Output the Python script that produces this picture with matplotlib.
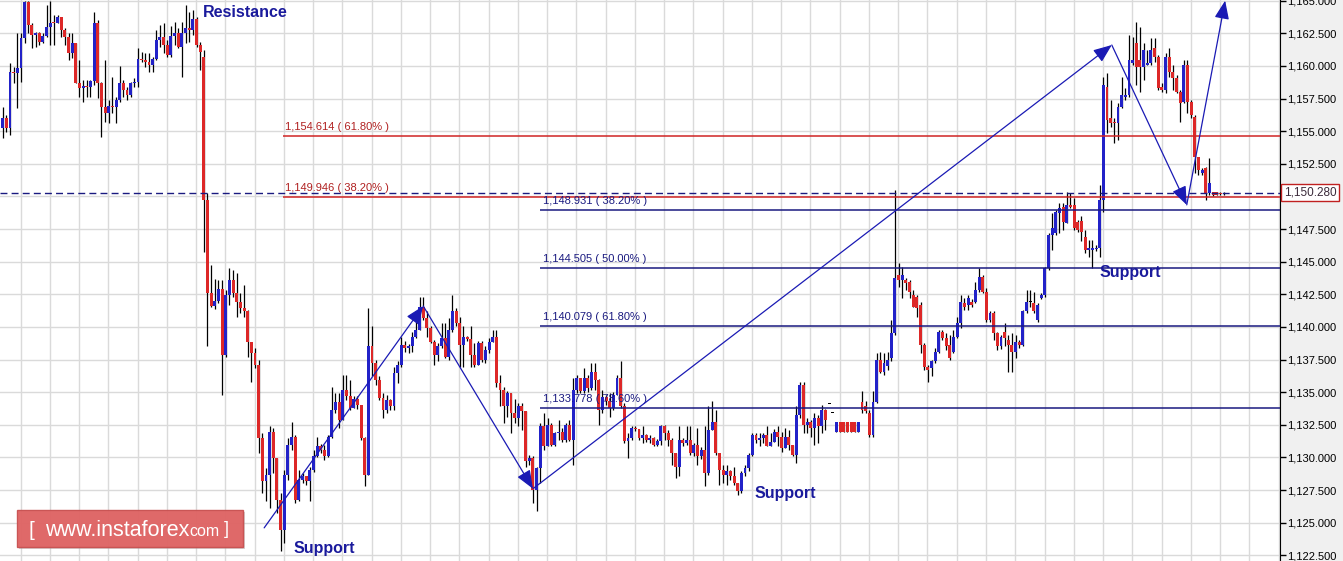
import numpy as np
import matplotlib.pyplot as plt
from matplotlib.patches import Rectangle

opens = [
    1155.22, 1155.98, 1155.22, 1159.56, 1159.43, 1159.81, 1162.11, 1164.92, 1163.13, 1162.37,
    1162.5, 1161.86, 1162.29, 1163.0, 1163.31, 1163.26, 1163.77, 1162.75, 1162.19, 1160.96,
    1161.73, 1158.72, 1158.28, 1158.46, 1158.36, 1158.84, 1163.31, 1158.67, 1156.88, 1156.42,
    1156.93, 1156.83, 1157.39, 1158.67, 1158.15, 1157.77, 1158.72, 1158.79, 1160.5, 1160.45,
    1160.33, 1160.07, 1160.5, 1161.99, 1162.24, 1161.6, 1160.84, 1162.29, 1162.5, 1161.42,
    1162.5, 1162.88, 1162.75, 1163.57, 1161.6, 1160.71, 1149.73, 1142.58, 1141.61, 1142.0,
    1142.9, 1137.85, 1142.45, 1143.6, 1142.58, 1141.94, 1141.43, 1141.18, 1138.88, 1137.98,
    1137.09, 1131.47, 1128.16, 1128.67, 1131.98, 1129.94, 1126.75, 1124.45, 1128.67, 1130.96,
    1131.6, 1126.75, 1128.28, 1128.54, 1128.16, 1129.05, 1130.07, 1130.84, 1130.6, 1130.07,
    1131.6, 1133.65, 1134.28, 1132.88, 1135.18, 1134.67, 1133.77, 1134.5, 1134.0, 1131.47,
    1128.67, 1138.5, 1137.22, 1135.94, 1134.54, 1133.65, 1134.41, 1133.9, 1136.45, 1137.09,
    1138.62, 1138.37, 1138.5, 1139.26, 1139.77, 1141.56, 1140.67, 1139.9, 1138.88, 1137.86,
    1138.5, 1139.13, 1137.73, 1139.77, 1141.18, 1140.28, 1138.62, 1139.26, 1139.1, 1137.86,
    1137.09, 1138.75, 1137.47, 1138.24, 1138.88, 1139.26, 1135.69, 1135.18, 1133.9, 1134.92,
    1133.39, 1133.0, 1133.9, 1133.52, 1129.69, 1129.94, 1127.52, 1129.18, 1132.37, 1130.84,
    1132.49, 1130.96, 1131.86, 1131.98, 1131.35, 1132.49, 1131.35, 1135.18, 1136.07, 1135.05,
    1136.07, 1135.3, 1136.58, 1135.94, 1133.64, 1134.66, 1134.3, 1133.77, 1134.79, 1136.07,
    1133.9, 1131.22, 1131.47, 1132.24, 1132.2, 1131.47, 1131.73, 1131.35, 1131.5, 1130.96,
    1131.22, 1132.37, 1131.86, 1131.35, 1130.32, 1129.3, 1131.35, 1131.09, 1131.35, 1130.32,
    1130.96, 1130.07, 1130.6, 1128.79, 1132.11, 1132.75, 1130.32, 1129.05, 1128.66, 1128.92,
    1128.54, 1128.03, 1127.39, 1128.79, 1129.18, 1130.2, 1131.73, 1131.35, 1131.47, 1131.73,
    1130.84, 1131.2, 1131.98, 1131.6, 1130.71, 1131.6, 1130.96, 1130.2, 1133.26, 1135.56,
    1132.5, 1132.7, 1132.24, 1133.01, 1132.37, 1133.65, 1134.1, 1133.39, 1131.98, 1132.75,
    1132.75, 1132.75, 1132.75, 1132.75, 1131.98, 1134.28, 1133.9, 1133.39, 1131.73, 1134.28,
    1137.47, 1136.58, 1137.0, 1137.6, 1139.52, 1143.98, 1143.6, 1143.6, 1143.47, 1142.45,
    1142.32, 1141.69, 1138.62, 1136.96, 1136.84, 1137.35, 1138.11, 1139.64, 1139.13, 1138.62,
    1138.11, 1139.26, 1140.28, 1141.81, 1141.69, 1141.94, 1141.94, 1142.83, 1143.86, 1142.71,
    1140.54, 1141.05, 1139.52, 1138.5, 1139.64, 1139.0, 1138.62, 1138.11, 1138.88, 1138.62,
    1141.18, 1141.94, 1141.81, 1140.54, 1142.2, 1142.45, 1144.49, 1147.05, 1147.18, 1148.71,
    1149.22, 1147.94, 1149.35, 1149.35, 1148.07, 1148.1, 1146.92, 1145.9, 1145.9, 1145.95,
    1146.03, 1149.73, 1158.41, 1155.99, 1155.73, 1155.6, 1156.88, 1157.65, 1157.77, 1160.2,
    1161.73, 1160.45, 1159.94, 1160.07, 1160.2, 1161.35, 1160.71, 1158.41, 1158.16, 1160.71,
    1159.56, 1159.05, 1158.03, 1157.26, 1160.07, 1157.26, 1156.11, 1153.05, 1151.77, 1152.16,
    1150.24, 1150.3, 1150.3, 1150.29, 1150.15,
]

closes = [
    1155.98, 1155.22, 1159.56, 1159.43, 1159.81, 1162.11, 1164.92, 1163.13, 1162.37, 1162.5,
    1161.86, 1162.29, 1163.0, 1163.31, 1163.26, 1163.77, 1162.75, 1162.19, 1160.96, 1161.73,
    1158.72, 1158.28, 1158.46, 1158.36, 1158.84, 1163.31, 1158.67, 1156.88, 1156.42, 1156.93,
    1156.83, 1157.39, 1158.67, 1158.15, 1157.77, 1158.72, 1158.79, 1160.5, 1160.45, 1160.33,
    1160.07, 1160.5, 1161.99, 1162.24, 1161.6, 1160.84, 1162.29, 1162.5, 1161.42, 1162.5,
    1162.88, 1162.75, 1163.57, 1161.6, 1161.09, 1149.73, 1142.58, 1141.61, 1142.0, 1142.9,
    1137.85, 1142.45, 1143.6, 1142.58, 1141.94, 1141.43, 1141.18, 1138.88, 1137.98, 1137.09,
    1131.47, 1128.16, 1128.67, 1131.98, 1129.94, 1126.75, 1124.45, 1128.67, 1130.96, 1131.6,
    1126.75, 1128.28, 1128.54, 1128.16, 1129.05, 1130.07, 1130.84, 1130.6, 1130.07, 1131.6,
    1133.65, 1134.28, 1132.88, 1135.18, 1134.67, 1133.77, 1134.5, 1134.0, 1131.47, 1128.67,
    1138.5, 1137.22, 1135.94, 1134.54, 1133.65, 1134.41, 1133.9, 1136.45, 1137.09, 1138.62,
    1138.37, 1138.5, 1139.26, 1139.77, 1141.56, 1140.67, 1139.9, 1138.88, 1137.86, 1138.5,
    1139.13, 1137.73, 1139.77, 1141.18, 1140.28, 1138.62, 1139.26, 1139.1, 1137.86, 1137.09,
    1138.75, 1137.47, 1138.24, 1138.88, 1139.26, 1135.69, 1135.18, 1133.9, 1134.92, 1133.39,
    1133.0, 1133.9, 1133.52, 1129.69, 1129.94, 1127.52, 1129.18, 1132.37, 1130.84, 1132.49,
    1130.96, 1131.86, 1131.98, 1131.35, 1132.49, 1131.35, 1135.18, 1136.07, 1135.05, 1136.07,
    1135.3, 1136.58, 1135.94, 1133.64, 1134.66, 1134.3, 1133.77, 1134.79, 1136.07, 1133.9,
    1131.22, 1131.47, 1132.24, 1132.2, 1131.47, 1131.73, 1131.35, 1131.5, 1130.96, 1131.22,
    1132.37, 1131.86, 1131.35, 1130.32, 1129.3, 1131.35, 1131.09, 1131.35, 1130.32, 1130.96,
    1130.07, 1130.6, 1128.79, 1132.11, 1132.75, 1130.32, 1129.05, 1128.66, 1128.92, 1128.54,
    1128.03, 1127.39, 1128.79, 1129.18, 1130.2, 1131.73, 1131.35, 1131.47, 1131.73, 1130.84,
    1131.2, 1131.98, 1131.6, 1130.71, 1131.6, 1130.96, 1130.2, 1133.26, 1135.56, 1132.5,
    1132.7, 1132.24, 1133.01, 1132.37, 1133.65, 1132.88, 1134.1, 1133.39, 1132.75, 1131.98,
    1131.98, 1131.98, 1131.98, 1131.98, 1132.75, 1133.65, 1133.52, 1131.73, 1134.28, 1137.47,
    1136.58, 1137.22, 1137.47, 1139.52, 1143.73, 1143.6, 1143.98, 1143.35, 1142.71, 1141.56,
    1141.43, 1138.62, 1136.96, 1136.71, 1137.35, 1138.11, 1139.64, 1139.13, 1138.5, 1137.6,
    1139.26, 1140.28, 1141.94, 1141.56, 1142.2, 1141.69, 1142.83, 1143.86, 1142.71, 1140.54,
    1141.05, 1139.52, 1138.5, 1139.26, 1139.13, 1138.62, 1138.11, 1138.88, 1138.62, 1141.18,
    1141.94, 1141.94, 1141.18, 1141.69, 1142.45, 1144.49, 1147.05, 1147.56, 1148.83, 1149.09,
    1148.07, 1149.35, 1149.22, 1147.56, 1147.43, 1147.3, 1145.9, 1146.03, 1146.03, 1146.03,
    1149.73, 1158.54, 1155.86, 1155.6, 1155.6, 1156.88, 1157.77, 1157.77, 1160.45, 1160.45,
    1159.94, 1159.94, 1161.22, 1160.2, 1161.22, 1160.71, 1158.28, 1158.16, 1160.71, 1159.56,
    1159.05, 1158.03, 1157.14, 1160.07, 1157.26, 1156.24, 1153.05, 1152.03, 1152.03, 1150.24,
    1151.01, 1150.12, 1150.12, 1150.15, 1150.28,
]

highs = [
    1156.88, 1156.24, 1160.2, 1159.94, 1162.5, 1162.5, 1165.0, 1165.0, 1163.26, 1162.62,
    1162.62, 1162.5, 1164.67, 1165.0, 1163.9, 1163.9, 1163.77, 1162.88, 1162.5, 1162.5,
    1161.73, 1160.45, 1158.92, 1158.92, 1158.92, 1164.16, 1163.52, 1158.79, 1160.45, 1157.39,
    1159.18, 1157.64, 1160.0, 1158.92, 1158.41, 1158.79, 1159.05, 1161.35, 1161.09, 1161.02,
    1160.96, 1160.71, 1162.75, 1163.13, 1163.26, 1161.99, 1163.06, 1163.39, 1162.88, 1163.39,
    1164.67, 1164.16, 1164.28, 1163.77, 1161.86, 1161.2, 1150.24, 1144.75, 1143.7, 1143.6,
    1143.6, 1142.83, 1144.49, 1144.37, 1144.11, 1142.58, 1143.22, 1141.3, 1138.75, 1138.37,
    1137.47, 1131.86, 1129.2, 1132.37, 1132.24, 1129.56, 1127.26, 1129.05, 1131.47, 1132.75,
    1131.73, 1129.05, 1128.8, 1128.6, 1129.3, 1130.58, 1131.6, 1131.0, 1130.96, 1131.73,
    1135.43, 1134.9, 1134.92, 1136.33, 1136.33, 1135.94, 1134.7, 1134.7, 1133.9, 1131.6,
    1141.43, 1140.03, 1137.47, 1136.2, 1134.92, 1134.79, 1134.5, 1136.96, 1137.35, 1139.26,
    1138.9, 1138.7, 1139.64, 1140.79, 1142.32, 1142.32, 1141.18, 1140.03, 1139.0, 1138.75,
    1140.28, 1140.28, 1140.67, 1142.45, 1141.43, 1140.79, 1140.03, 1139.3, 1140.03, 1138.75,
    1138.9, 1138.9, 1138.5, 1139.13, 1139.77, 1139.77, 1136.32, 1135.43, 1135.05, 1134.92,
    1134.5, 1134.15, 1134.15, 1133.26, 1130.2, 1130.07, 1129.3, 1132.62, 1133.39, 1133.0,
    1132.62, 1131.98, 1132.88, 1132.24, 1132.62, 1132.88, 1136.07, 1136.32, 1136.1, 1136.83,
    1136.3, 1137.22, 1137.22, 1136.0, 1135.18, 1134.8, 1134.92, 1135.0, 1136.32, 1137.35,
    1134.15, 1131.86, 1132.37, 1132.4, 1132.11, 1132.37, 1131.8, 1131.7, 1131.6, 1131.4,
    1132.49, 1132.49, 1132.11, 1131.47, 1130.32, 1132.37, 1131.47, 1132.37, 1132.37, 1131.09,
    1132.24, 1130.8, 1132.37, 1133.9, 1134.3, 1133.64, 1130.32, 1129.43, 1129.43, 1129.05,
    1129.3, 1128.0, 1128.92, 1129.4, 1130.32, 1131.86, 1131.9, 1131.86, 1131.86, 1132.37,
    1131.86, 1132.2, 1132.37, 1131.98, 1132.24, 1132.11, 1130.96, 1133.9, 1135.81, 1135.81,
    1133.0, 1132.88, 1133.39, 1133.26, 1134.0, 1133.7, 1134.1, 1133.39, 1132.75, 1132.75,
    1132.75, 1132.75, 1132.75, 1132.75, 1132.75, 1135.05, 1134.3, 1133.65, 1135.05, 1137.98,
    1138.11, 1137.98, 1138.11, 1140.54, 1150.49, 1144.88, 1144.62, 1143.73, 1143.6, 1142.83,
    1142.45, 1141.94, 1138.75, 1137.09, 1137.47, 1138.37, 1139.77, 1139.77, 1139.52, 1139.39,
    1139.77, 1140.79, 1142.45, 1142.2, 1142.45, 1142.1, 1143.47, 1144.49, 1143.98, 1142.96,
    1141.18, 1141.18, 1139.64, 1139.4, 1140.28, 1139.39, 1139.52, 1139.39, 1139.0, 1141.3,
    1142.83, 1142.83, 1142.71, 1141.81, 1142.58, 1144.62, 1147.18, 1148.71, 1148.96, 1149.47,
    1149.47, 1150.37, 1150.24, 1149.86, 1148.2, 1148.5, 1147.43, 1146.67, 1146.67, 1146.3,
    1150.88, 1159.18, 1159.43, 1157.39, 1155.99, 1157.14, 1159.18, 1158.28, 1162.37, 1162.24,
    1163.39, 1163.0, 1161.73, 1161.22, 1162.11, 1162.11, 1160.84, 1158.67, 1160.96, 1161.35,
    1160.07, 1159.31, 1158.16, 1160.45, 1160.45, 1157.39, 1156.24, 1153.05, 1152.16, 1152.29,
    1152.92, 1150.35, 1150.35, 1150.35, 1150.32,
]

lows = [
    1154.45, 1154.96, 1154.71, 1158.67, 1156.75, 1158.79, 1161.73, 1162.5, 1161.35, 1161.47,
    1161.6, 1161.73, 1162.24, 1161.6, 1161.6, 1163.26, 1162.24, 1161.6, 1160.45, 1160.58,
    1158.67, 1157.64, 1157.26, 1157.64, 1157.64, 1158.54, 1157.52, 1154.58, 1155.73, 1155.6,
    1156.37, 1155.6, 1157.26, 1157.64, 1157.39, 1157.64, 1158.41, 1158.41, 1160.33, 1159.94,
    1159.56, 1159.56, 1160.45, 1161.47, 1160.96, 1160.71, 1160.71, 1161.6, 1161.35, 1159.13,
    1161.73, 1161.86, 1162.37, 1161.47, 1159.69, 1145.75, 1138.5, 1141.5, 1141.4, 1141.8,
    1134.8, 1137.73, 1141.7, 1142.3, 1140.79, 1141.05, 1140.79, 1137.73, 1135.81, 1136.84,
    1130.33, 1127.26, 1126.62, 1126.1, 1128.79, 1125.73, 1122.79, 1123.43, 1128.28, 1130.58,
    1126.5, 1126.62, 1128.0, 1127.9, 1126.62, 1128.9, 1130.0, 1130.3, 1129.82, 1130.0,
    1131.47, 1133.39, 1132.24, 1132.88, 1134.41, 1133.65, 1133.9, 1133.7, 1131.35, 1127.77,
    1128.79, 1136.2, 1135.56, 1134.41, 1133.01, 1133.39, 1133.6, 1133.65, 1135.7, 1136.96,
    1138.1, 1138.0, 1138.11, 1139.13, 1139.77, 1140.54, 1139.26, 1138.75, 1137.09, 1137.35,
    1138.37, 1137.6, 1137.47, 1139.64, 1140.03, 1136.96, 1136.96, 1138.9, 1136.96, 1136.96,
    1137.73, 1137.3, 1137.2, 1138.0, 1138.88, 1135.43, 1133.9, 1132.62, 1133.13, 1131.86,
    1132.62, 1132.37, 1132.11, 1129.3, 1129.4, 1126.5, 1125.86, 1128.03, 1130.58, 1130.84,
    1130.84, 1130.84, 1131.35, 1131.2, 1131.2, 1131.22, 1129.43, 1134.92, 1134.9, 1134.92,
    1135.0, 1135.18, 1135.18, 1132.49, 1133.39, 1134.0, 1133.13, 1133.6, 1134.79, 1133.8,
    1131.09, 1129.94, 1131.35, 1132.0, 1131.35, 1131.09, 1131.2, 1131.1, 1130.84, 1130.9,
    1130.96, 1131.35, 1130.84, 1129.43, 1128.41, 1128.54, 1130.84, 1130.96, 1130.2, 1130.07,
    1129.43, 1129.9, 1127.77, 1128.66, 1132.11, 1130.2, 1127.9, 1128.03, 1127.9, 1128.3,
    1127.9, 1127.13, 1127.26, 1128.6, 1128.92, 1130.07, 1131.1, 1130.84, 1131.09, 1130.84,
    1130.84, 1131.2, 1130.84, 1130.45, 1130.71, 1130.58, 1130.07, 1129.56, 1133.0, 1131.86,
    1131.9, 1131.6, 1130.96, 1131.09, 1131.86, 1132.1, 1134.1, 1133.39, 1131.98, 1131.98,
    1131.98, 1131.98, 1131.98, 1131.98, 1131.98, 1133.39, 1133.39, 1131.6, 1131.6, 1134.16,
    1136.45, 1136.33, 1136.71, 1137.35, 1139.39, 1143.09, 1142.2, 1142.83, 1142.2, 1141.56,
    1140.79, 1137.98, 1136.71, 1135.81, 1136.2, 1137.22, 1137.98, 1139.0, 1138.24, 1137.47,
    1137.98, 1139.13, 1139.9, 1141.3, 1141.3, 1141.5, 1141.81, 1142.71, 1142.58, 1140.41,
    1140.41, 1139.0, 1138.24, 1138.3, 1138.5, 1136.58, 1136.58, 1137.6, 1138.37, 1138.5,
    1141.05, 1141.56, 1141.05, 1140.41, 1142.1, 1142.32, 1144.37, 1145.9, 1147.05, 1147.18,
    1147.43, 1147.94, 1149.1, 1147.43, 1147.3, 1146.6, 1145.65, 1145.39, 1144.5, 1145.8,
    1145.39, 1148.84, 1154.84, 1155.35, 1154.07, 1154.33, 1156.75, 1157.39, 1157.65, 1160.07,
    1158.54, 1158.03, 1158.92, 1160.07, 1160.07, 1160.33, 1158.16, 1158.03, 1157.9, 1159.18,
    1158.16, 1157.9, 1155.73, 1157.14, 1156.37, 1155.99, 1151.77, 1151.65, 1151.65, 1149.73,
    1150.12, 1150.05, 1150.1, 1150.1, 1150.12,
]

# fibonacci levels
red_levels = [1154.614, 1149.946]
red_pcts = ['61.80%', '38.20%']
blue_levels = [1148.931, 1144.505, 1140.079, 1133.778]
blue_pcts = ['38.20%', '50.00%', '61.80%', '78.60%']
last_price = 1150.280

# wave arrows: (bar index, price) turning points
wave_x = [71.5, 115.0, 145.0, 303.3, 323.8, 334.3]
wave_y = [1124.6, 1141.6, 1127.6, 1161.6, 1149.35, 1165.0]

labels_text = ['Resistance', 'Support', 'Support', 'Support']
labels_x = [54.8, 79.4, 205.7, 300.0]
labels_y = [1164.1, 1123.0, 1127.2, 1144.2]

W, H = 1343, 561
fig = plt.figure(figsize=(W / 100, H / 100), dpi=100, facecolor='#f0f0f0')
ax = fig.add_axes([0, 0, 1280 / W, 1])
ax.set_facecolor('white')

o = np.array(opens)
c = np.array(closes)
n = len(o)
hi = np.maximum(np.array(highs), np.maximum(o, c))
lo = np.minimum(np.array(lows), np.minimum(o, c))
x = np.arange(n)

ax.set_xlim(-0.74, 349.3)
ax.set_ylim(1122.06, 1165.05)

ax.vlines(x, lo, hi, color='black', lw=0.9, zorder=2)
colors = np.where(c > o, '#2222c8', np.where(c < o, '#dd2828', '#000000'))
bottoms = np.minimum(o, c)
heights = np.maximum(np.abs(c - o), 0.08)
ax.bar(x, heights, bottom=bottoms, width=0.8, color=colors, lw=0, zorder=3)

fnt = ['Liberation Sans', 'DejaVu Sans']
navy = '#1a1a80'
for lv, pc in zip(red_levels, red_pcts):
    ax.hlines(lv, 76.6, 349.3, color='#d02424', lw=1.1, zorder=4)
    ax.text(77.3, lv + 0.3, f'{lv:,.3f} ( {pc} )', color='#b02020', fontsize=8,
            family=fnt, va='bottom', ha='left', zorder=5)
for lv, pc in zip(blue_levels, blue_pcts):
    ax.hlines(lv, 147.0, 349.3, color=navy, lw=1.1, zorder=4)
    ax.text(147.7, lv + 0.3, f'{lv:,.3f} ( {pc} )', color=navy, fontsize=8,
            family=fnt, va='bottom', ha='left', zorder=5)

ax.axhline(last_price, color=navy, lw=1, ls=(0, (5, 3)), zorder=4)

for i in range(len(wave_x) - 1):
    ax.annotate('', xy=(wave_x[i + 1], wave_y[i + 1]), xytext=(wave_x[i], wave_y[i]),
                arrowprops=dict(arrowstyle='-|>,head_length=0.75,head_width=0.3',
                                color='#1a1ab4', lw=0.9, shrinkA=0, shrinkB=0,
                                mutation_scale=15), zorder=6, annotation_clip=False)

for t, tx, ty in zip(labels_text, labels_x, labels_y):
    ax.text(tx, ty, t, color='#1a1a9c', fontsize=11.5, fontweight='bold', family=fnt,
            va='center', ha='left', zorder=7)

# axes / grid
ax.set_xticks(np.arange(4.9, 349, 8))
ax.set_yticks(np.arange(1122.5, 1165.01, 2.5))
ax.grid(True, color='#dadada', lw=1)
ax.set_axisbelow(True)
ax.yaxis.tick_right()
# the 1,150.000 label sits under the last-price box
ax.yaxis.set_major_formatter(plt.FuncFormatter(
    lambda v, p: '' if abs(v - 1150.0) < 0.01 else f'{v:,.3f}'))
ax.tick_params(axis='x', length=0, labelbottom=False)
ax.tick_params(axis='y', direction='out', length=4, width=1, pad=1, labelsize=8,
               colors='black')
for lab in ax.get_yticklabels():
    lab.set_family(fnt)
for s in ['top', 'left', 'bottom']:
    ax.spines[s].set_visible(False)
ax.spines['right'].set_color('black')

ax.text(1.003, last_price, f'{last_price:,.3f}', transform=ax.get_yaxis_transform(),
        va='center', ha='left', fontsize=8.5, family=fnt, color='#3a2a3a', zorder=10,
        bbox=dict(boxstyle='square,pad=0.2', fc='white', ec='#c02020', lw=1))

# watermark
fig.patches.append(Rectangle((19 / W, 1 - 549 / H), 226 / W, 37 / H, transform=fig.transFigure,
                             fc='#b0a0a0', ec='none', alpha=0.5, zorder=8))
fig.patches.append(Rectangle((17 / W, 1 - 547 / H), 226 / W, 37 / H, transform=fig.transFigure,
                             fc='#e06464', ec='#c85050', lw=1, alpha=0.95, zorder=9))
wy = 1 - 530 / H
fig.text(29 / W, wy, '[', color='white', fontsize=15, family=fnt, va='center',
         ha='left', zorder=10)
t1 = fig.text(45 / W, wy, 'www.instaforex', color='white', fontsize=15.5, family=fnt,
              va='center', ha='left', zorder=10)
fig.canvas.draw()
bb = t1.get_window_extent()
t2 = fig.text(bb.x1 / W, wy - 1 / H, 'com', color='white', fontsize=11.5, family=fnt,
              va='center', ha='left', zorder=10)
fig.canvas.draw()
bb2 = t2.get_window_extent()
fig.text((bb2.x1 + 4) / W, wy, ']', color='white', fontsize=13, family=fnt,
         va='center', ha='left', zorder=10)

fig.savefig('out.png', dpi=100, facecolor=fig.get_facecolor())
